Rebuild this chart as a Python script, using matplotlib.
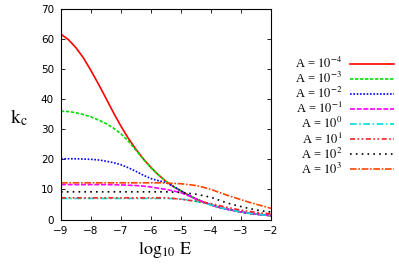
import numpy as np
import matplotlib
matplotlib.use("Agg")
import matplotlib.pyplot as plt

logE = [-9, -8.75, -8.5, -8.25, -8, -7.75, -7.5, -7.25, -7, -6.75, -6.5, -6.25, -6,
        -5.75, -5.5, -5.25, -5, -4.75, -4.5, -4.25, -4, -3.75, -3.5, -3.25, -3,
        -2.75, -2.5, -2.25, -2]

k_m4 = [61.6, 59.8, 57.1, 53.7, 49.5, 45.0, 40.3, 35.5, 31.0, 26.9, 23.3, 20.1, 17.3,
        14.8, 12.7, 10.9, 9.5, 8.1, 6.8, 5.8, 4.85, 4.1, 3.5, 3.0, 2.5, 2.1, 1.8, 1.5, 1.3]
k_m3 = [36.0, 35.9, 35.5, 34.9, 34.1, 33.1, 31.9, 30.4, 28.5, 26.0, 23.0, 20.0, 17.2,
        14.8, 12.7, 10.9, 9.5, 8.1, 6.8, 5.8, 4.85, 4.1, 3.5, 3.0, 2.5, 2.1, 1.8, 1.5, 1.3]
k_m2 = [20.2, 20.2, 20.2, 20.1, 20.0, 19.8, 19.4, 18.9, 18.2, 17.2, 16.0, 14.7, 13.6,
        12.9, 12.3, 11.0, 9.5, 8.1, 6.8, 5.8, 4.85, 4.1, 3.5, 3.0, 2.5, 2.1, 1.8, 1.5, 1.3]
k_m1 = [11.6, 11.6, 11.6, 11.6, 11.6, 11.6, 11.6, 11.55, 11.5, 11.4, 11.3, 11.1, 10.8,
        10.4, 10.0, 9.5, 8.9, 7.9, 6.8, 5.8, 4.85, 4.1, 3.5, 3.0, 2.5, 2.1, 1.8, 1.5, 1.3]
k_0 = [7.0, 7.0, 7.0, 7.0, 7.0, 7.0, 7.0, 7.0, 7.0, 7.0, 7.0, 7.0, 7.0,
       7.0, 7.0, 6.95, 6.8, 6.5, 6.0, 5.5, 4.85, 4.1, 3.5, 3.0, 2.5, 2.1, 1.8, 1.5, 1.3]
k_1 = [7.2, 7.2, 7.2, 7.2, 7.2, 7.2, 7.2, 7.2, 7.2, 7.2, 7.2, 7.2, 7.2,
       7.2, 7.2, 7.0, 6.7, 6.4, 6.1, 5.7, 5.3, 4.7, 4.1, 3.6, 3.1, 2.7, 2.4, 2.1, 1.9]
k_2 = [9.2, 9.2, 9.2, 9.2, 9.2, 9.2, 9.2, 9.2, 9.2, 9.2, 9.2, 9.2, 9.2,
       9.2, 9.2, 9.1, 9.0, 8.7, 8.4, 7.9, 7.4, 6.5, 5.6, 4.9, 4.3, 3.7, 3.2, 2.8, 2.5]
k_3 = [12.2, 12.2, 12.2, 12.2, 12.2, 12.2, 12.2, 12.2, 12.2, 12.2, 12.2, 12.2, 12.2,
       12.2, 12.1, 12.0, 11.9, 11.6, 11.3, 10.7, 10.0, 9.1, 8.2, 7.4, 6.6, 5.8, 5.1, 4.4, 3.7]

series = [k_m4, k_m3, k_m2, k_m1, k_0, k_1, k_2, k_3]
labels = [r"A = $10^{-4}$", r"A = $10^{-3}$", r"A = $10^{-2}$", r"A = $10^{-1}$",
          r"A = $10^{0}$", r"A = $10^{1}$", r"A = $10^{2}$", r"A = $10^{3}$"]
colors = ["#ff0000", "#00e000", "#0000ff", "#ff00ff", "#00e0e0", "#ff2020", "#000000", "#ff4500"]
styles = ["-", (0, (2, 1)), (0, (1, 1)), (0, (3, 1)), (0, (4, 1.5, 1, 1.5)),
          (0, (3, 1.5, 1, 1.5, 1, 1.5)), (0, (1, 2.5)), (0, (4, 1, 1, 1))]

plt.rcParams["mathtext.fontset"] = "stix"
plt.rcParams["font.family"] = "DejaVu Sans"

fig = plt.figure(figsize=(3.99, 2.71), dpi=100)
ax = fig.add_axes([61 / 399, 1 - 219.5 / 271, 210 / 399, 210.5 / 271])

for y, lab, c, ls in zip(series, labels, colors, styles):
    ax.plot(logE, y, color=c, linestyle=ls, linewidth=1.2, label=lab)

ax.set_xlim(-9, -2)
ax.set_ylim(0, 70)
ax.set_xticks(range(-9, -1))
ax.set_yticks(range(0, 71, 10))
ax.tick_params(direction="in", top=True, right=True, length=3, width=0.6,
               labelsize=7.5, pad=5)
for s in ax.spines.values():
    s.set_linewidth(0.8)

fig.text(165 / 399, 1 - 250 / 271, r"$\log_{10}\,\mathrm{E}$", ha="center", va="center",
         fontsize=13)
fig.text(19 / 399, 1 - 118 / 271, r"$\mathrm{k_c}$", ha="center", va="center", fontsize=14)

leg = ax.legend(loc="upper left", bbox_to_anchor=(295 / 399, 1 - 56 / 271),
                bbox_transform=fig.transFigure, frameon=False, markerfirst=False,
                handlelength=3.5, handletextpad=0.6, labelspacing=0.0,
                borderpad=0, borderaxespad=0,
                prop={"family": "Liberation Serif", "size": 9.0})

fig.savefig("out.png", dpi=100)
